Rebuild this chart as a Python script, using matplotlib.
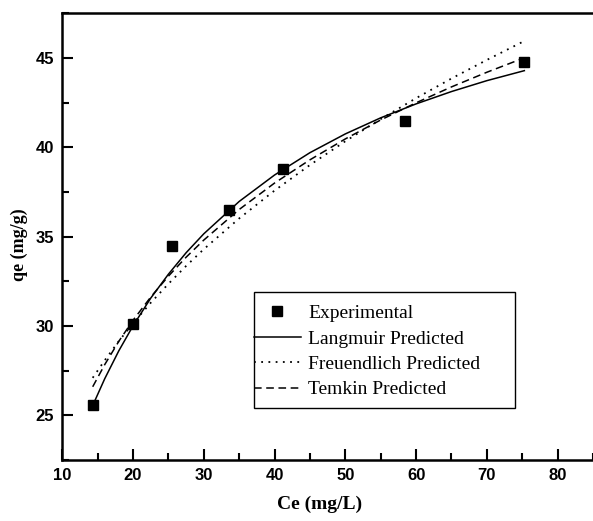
import matplotlib.pyplot as plt
from matplotlib.patches import Rectangle

# Experimental equilibrium data
ce_exp = [14.3, 20.0, 25.5, 33.5, 41.2, 58.5, 75.3]
qe_exp = [25.6, 30.1, 34.45, 36.5, 38.8, 41.5, 44.75]

# Isotherm model predictions, tabulated over Ce (mg/L)
ce_fit = [14.3, 16, 18, 20, 22.5, 25, 27.5, 30, 35, 40, 45, 50, 55, 60, 65, 70, 75.3]
qe_langmuir = [25.55, 27.05, 28.62, 30.01, 31.56, 32.90, 34.10, 35.16, 36.97,
               38.45, 39.70, 40.75, 41.65, 42.43, 43.12, 43.73, 44.29]
qe_freundlich = [27.10, 28.08, 29.16, 30.15, 31.30, 32.36, 33.36, 34.30, 36.02,
                 37.58, 39.01, 40.34, 41.58, 42.75, 43.85, 44.89, 45.95]
qe_temkin = [26.60, 27.84, 29.15, 30.32, 31.62, 32.79, 33.85, 34.81, 36.52,
             38.00, 39.30, 40.47, 41.53, 42.49, 43.38, 44.20, 45.01]

xticks = [10, 20, 30, 40, 50, 60, 70, 80]
yticks = [25, 30, 35, 40, 45]

fig = plt.figure(figsize=(5.93, 5.21), dpi=100)
ax = fig.add_axes([0.105, 0.117, 0.895, 0.8575])

ax.plot(ce_fit, qe_langmuir, color='black', lw=1.1, ls='-', label='Langmuir Predicted')
ax.plot(ce_fit, qe_freundlich, color='black', lw=1.3, ls=(0, (1, 3)), label='Freuendlich Predicted')
ax.plot(ce_fit, qe_temkin, color='black', lw=1.1, ls=(0, (5, 3)), label='Temkin Predicted')
ax.plot(ce_exp, qe_exp, ls='none', marker='s', ms=6.7, color='black', label='Experimental')

ax.set_xlim(10, 85)
ax.set_ylim(22.5, 47.5)
ax.set_xticks(xticks)
ax.set_yticks(yticks)
ax.set_xticks([15, 25, 35, 45, 55, 65, 75, 85], minor=True)
ax.set_yticks([22.5, 27.5, 32.5, 37.5, 42.5, 47.5], minor=True)
ax.tick_params(which='major', direction='in', length=8, width=1.5,
               labelsize=12, top=False, right=False, pad=6)
ax.tick_params(which='minor', direction='in', length=5, width=1.5, top=False, right=False)
for lbl in ax.get_xticklabels() + ax.get_yticklabels():
    lbl.set_fontfamily('Liberation Sans')
    lbl.set_fontweight('bold')

for side in ['left', 'bottom', 'top']:
    ax.spines[side].set_linewidth(1.8)
ax.spines['right'].set_visible(False)

ax.set_xlabel('Ce (mg/L)', fontfamily='Liberation Serif', fontweight='bold', fontsize=14)
ax.set_ylabel('qe (mg/g)', fontfamily='Liberation Serif', fontweight='bold', fontsize=13)
ax.xaxis.set_label_coords(0.4856, -0.08)
ax.yaxis.set_label_coords(-0.065, 0.483)

# legend box drawn separately so it can be wider than its entries
ax.add_patch(Rectangle((0.361, 0.1164), 0.492, 0.2596, transform=ax.transAxes,
                       fill=False, edgecolor='black', lw=1.0, zorder=5))
handles, labels = ax.get_legend_handles_labels()
order = [3, 0, 1, 2]
ax.legend([handles[i] for i in order], [labels[i] for i in order],
          loc='upper left', bbox_to_anchor=(0.361, 0.348),
          prop={'family': 'Liberation Serif', 'size': 14},
          frameon=False, handlelength=2.4, handletextpad=0.4,
          labelspacing=0.40, borderpad=0.0, borderaxespad=0)

fig.savefig('out.png', dpi=100)
